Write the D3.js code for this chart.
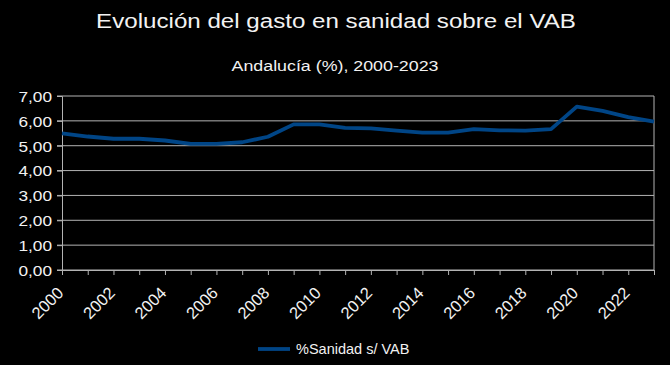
<!DOCTYPE html>
<html>
<head>
<meta charset="utf-8">
<script src="https://cdn.jsdelivr.net/npm/d3@7"></script>
<style>
  body { margin: 0; background: #000; }
  svg text { font-family: "Liberation Sans", Arial, sans-serif; fill: #f2f2f2; }
</style>
</head>
<body>
<svg id="chart" width="670" height="365"></svg>
<script>
// data
var years = d3.range(2000, 2024);
var sanidad = [5.50, 5.37, 5.28, 5.28, 5.21, 5.07, 5.07, 5.14, 5.36, 5.86,
               5.86, 5.72, 5.70, 5.61, 5.53, 5.53, 5.67, 5.62, 5.61, 5.67,
               6.57, 6.40, 6.15, 5.97];
var yTicks = [0, 1, 2, 3, 4, 5, 6, 7];
var xTickLabels = d3.range(2000, 2024, 2);

var svg = d3.select('#chart');
var W = 670, H = 365;
var m = { top: 96, right: 16, bottom: 95, left: 62 };
var sx = 1.15; // the reference text is a bit wide, stretch it

svg.append('rect').attr('width', W).attr('height', H).attr('fill', '#000');

var x = d3.scaleLinear().domain([2000, 2023]).range([m.left, W - m.right]);
var y = d3.scaleLinear().domain([0, 7]).range([H - m.bottom, m.top]);

var fmt = function (d) { return d3.format('.2f')(d).replace('.', ','); };

// gridlines
svg.append('g')
  .selectAll('line')
  .data(yTicks)
  .enter()
  .append('line')
  .attr('x1', m.left - 5)
  .attr('x2', W - m.right)
  .attr('y1', function (d) { return y(d); })
  .attr('y2', function (d) { return y(d); })
  .attr('stroke', '#b3b3b3')
  .attr('stroke-width', 1);

// y axis
var yAxis = svg.append('g')
  .attr('transform', 'translate(' + m.left + ',0)')
  .call(d3.axisLeft(y).tickValues(yTicks).tickFormat(fmt).tickSize(5).tickPadding(5));
yAxis.selectAll('text')
  .attr('font-size', 15)
  .attr('fill', '#f2f2f2')
  .attr('x', 0)
  .attr('dy', '0.36em')
  .attr('transform', 'translate(-10,0) scale(' + sx + ',1)');

// x axis, tick every year, label every 2
var xAxis = svg.append('g')
  .attr('transform', 'translate(0,' + y(0) + ')')
  .call(d3.axisBottom(x).tickValues(years).tickFormat(function (d) {
    return xTickLabels.indexOf(d) >= 0 ? d : '';
  }).tickSize(5).tickSizeOuter(0));
xAxis.selectAll('text')
  .attr('font-size', 16.5)
  .attr('fill', '#f2f2f2')
  .attr('text-anchor', 'end')
  .attr('x', 0)
  .attr('y', 0)
  .attr('dy', 0)
  .attr('transform', 'translate(2,24) rotate(-45)');

svg.selectAll('.domain').attr('stroke', '#b3b3b3');
svg.selectAll('.tick line').attr('stroke', '#b3b3b3');

// right border of plot
svg.append('line')
  .attr('x1', W - m.right).attr('x2', W - m.right)
  .attr('y1', y(7)).attr('y2', y(0))
  .attr('stroke', '#b3b3b3');

// series line
var line = d3.line()
  .x(function (d, i) { return x(years[i]); })
  .y(function (d) { return y(d); });

svg.append('path')
  .datum(sanidad)
  .attr('d', line)
  .attr('fill', 'none')
  .attr('stroke', '#004586')
  .attr('stroke-width', 3.8)
  .attr('stroke-linejoin', 'round');

// titles
svg.append('text')
  .attr('transform', 'translate(336,28) scale(' + sx + ',1)')
  .attr('text-anchor', 'middle')
  .attr('font-size', 21)
  .text('Evolución del gasto en sanidad sobre el VAB');

svg.append('text')
  .attr('transform', 'translate(335,71) scale(' + sx + ',1)')
  .attr('text-anchor', 'middle')
  .attr('font-size', 15.5)
  .text('Andalucía (%), 2000-2023');

// legend
svg.append('line')
  .attr('x1', 258).attr('x2', 290)
  .attr('y1', 349).attr('y2', 349)
  .attr('stroke', '#004586')
  .attr('stroke-width', 3.8);

svg.append('text')
  .attr('x', 296).attr('y', 354)
  .attr('font-size', 14.5)
  .text('%Sanidad s/ VAB');
</script>
</body>
</html>
